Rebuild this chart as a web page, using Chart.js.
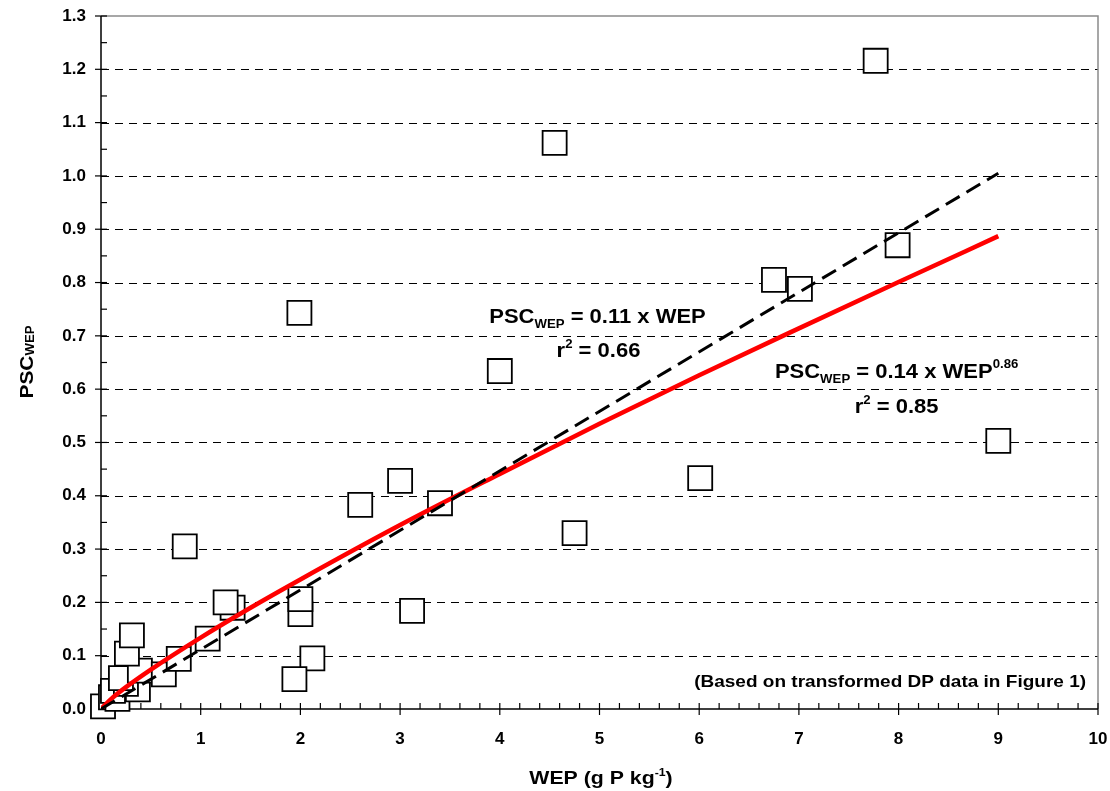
<!DOCTYPE html>
<html><head><meta charset="utf-8">
<script src="https://cdn.jsdelivr.net/npm/chart.js@4"></script>
<style>html,body{margin:0;padding:0;background:#fff}canvas{display:block}</style>
</head><body>
<canvas id="c" width="1110" height="791"></canvas>
<script>
// Observed data (WEP, PSC_WEP)
const wepValues = [0.02, 0.10, 0.165, 0.12, 0.37, 0.25, 0.20, 0.39, 0.26, 0.31, 0.63, 0.78, 1.07, 1.32, 1.25, 0.84, 2.00, 2.00, 2.12, 1.94, 1.99, 2.60, 3.00, 3.40, 3.12, 4.00, 4.55, 4.75, 6.01, 7.01, 6.75, 7.77, 7.99, 9.00];
const pscValues = [0.005, 0.022, 0.019, 0.034, 0.037, 0.047, 0.058, 0.072, 0.104, 0.138, 0.065, 0.094, 0.132, 0.190, 0.200, 0.305, 0.178, 0.206, 0.095, 0.056, 0.743, 0.383, 0.428, 0.386, 0.184, 0.634, 1.062, 0.330, 0.433, 0.788, 0.805, 1.216, 0.870, 0.503];
// Linear fit line (black dashed)
const linearFitWep = [0, 9];
const linearFitPsc = [0, 1.005];
// Power fit curve (red)
const powerFitWep = [0, 0.1, 0.25, 0.5, 1, 1.5, 2, 3, 4, 5, 6, 7, 8, 9];
const powerFitPsc = [0, 0.0185, 0.041, 0.074, 0.134, 0.19, 0.243, 0.345, 0.441, 0.535, 0.626, 0.714, 0.801, 0.887];
// Tick labels
const xTickValues = [0, 1, 2, 3, 4, 5, 6, 7, 8, 9, 10];
const xTickLabels = ['0', '1', '2', '3', '4', '5', '6', '7', '8', '9', '10'];
const yTickValues = [0, 0.1, 0.2, 0.3, 0.4, 0.5, 0.6, 0.7, 0.8, 0.9, 1.0, 1.1, 1.2, 1.3];
const yTickLabels = ['0.0', '0.1', '0.2', '0.3', '0.4', '0.5', '0.6', '0.7', '0.8', '0.9', '1.0', '1.1', '1.2', '1.3'];

const FONT = '"Liberation Sans", Arial, Helvetica, sans-serif';

function zip(xs, ys) { return xs.map((v, i) => ({ x: v, y: ys[i] })); }

function richWidth(ctx, parts) {
  let w = 0;
  parts.forEach(p => { ctx.font = 'bold ' + p.s + 'px ' + FONT; w += ctx.measureText(p.t).width; });
  return w;
}
function drawRich(ctx, parts, x, y, align, sx, rot) {
  ctx.save();
  ctx.translate(x, y);
  if (rot) ctx.rotate(rot);
  ctx.scale(sx, 1);
  ctx.fillStyle = '#000';
  ctx.textBaseline = 'alphabetic';
  ctx.textAlign = 'left';
  const w = richWidth(ctx, parts);
  let cx = align === 'center' ? -w / 2 : (align === 'right' ? -w : 0);
  parts.forEach(p => {
    ctx.font = 'bold ' + p.s + 'px ' + FONT;
    ctx.fillText(p.t, cx, p.dy || 0);
    cx += ctx.measureText(p.t).width;
  });
  ctx.restore();
}

function noPad(s) { s.paddingTop = 0; s.paddingBottom = 0; s.paddingLeft = 0; s.paddingRight = 0; }

const framePlugin = {
  id: 'frame',
  beforeDatasetsDraw(chart) {
    const { ctx, chartArea: a, scales: { x, y } } = chart;
    ctx.save();
    // dashed horizontal gridlines
    ctx.strokeStyle = '#000';
    ctx.lineWidth = 1;
    ctx.setLineDash([8, 6]);
    yTickValues.forEach(v => {
      if (v <= 0 || v >= 1.3) return;
      const py = Math.round(y.getPixelForValue(v)) + 0.5;
      ctx.beginPath(); ctx.moveTo(a.left, py); ctx.lineTo(a.right, py); ctx.stroke();
    });
    ctx.setLineDash([]);
    // top and right frame (gray)
    ctx.strokeStyle = '#8a8a8a';
    ctx.lineWidth = 1.5;
    ctx.beginPath(); ctx.moveTo(a.left, a.top); ctx.lineTo(a.right, a.top); ctx.lineTo(a.right, a.bottom); ctx.stroke();
    // axes
    ctx.strokeStyle = '#000';
    ctx.lineWidth = 1.5;
    ctx.beginPath(); ctx.moveTo(a.left, a.top); ctx.lineTo(a.left, a.bottom); ctx.lineTo(a.right, a.bottom); ctx.stroke();
    // ticks
    ctx.lineWidth = 1.2;
    for (let i = 0; i <= 26; i++) {
      const py = y.getPixelForValue(i * 0.05);
      const major = i % 2 === 0;
      ctx.beginPath(); ctx.moveTo(major ? a.left - 6 : a.left, py); ctx.lineTo(a.left + 6, py); ctx.stroke();
    }
    for (let i = 0; i <= 50; i++) {
      const px = x.getPixelForValue(i * 0.2);
      const major = i % 5 === 0;
      ctx.beginPath(); ctx.moveTo(px, a.bottom - 6); ctx.lineTo(px, major ? a.bottom + 6 : a.bottom); ctx.stroke();
    }
    ctx.restore();
  },
  afterDraw(chart) {
    const { ctx, scales: { x, y } } = chart;
    const SX = 1.1;
    // y axis title
    drawRich(ctx, [{ t: 'PSC', s: 19 }, { t: 'WEP', s: 12, dy: 0.5 }], 33, 362, 'center', SX, -Math.PI / 2);
    // x axis title
    drawRich(ctx, [{ t: 'WEP (g P kg', s: 19 }, { t: '-1', s: 11, dy: -8 }, { t: ')', s: 19 }], 601, 784, 'center', 1.12);
    // linear fit annotation
    drawRich(ctx, [{ t: 'PSC', s: 20 }, { t: 'WEP', s: 12, dy: 5 }, { t: ' = 0.11 x WEP', s: 20 }],
      x.getPixelForValue(4.98), y.getPixelForValue(0.724), 'center', SX);
    drawRich(ctx, [{ t: 'r', s: 20 }, { t: '2', s: 12, dy: -9 }, { t: ' = 0.66', s: 20 }],
      x.getPixelForValue(4.99), y.getPixelForValue(0.66), 'center', SX);
    // power fit annotation
    drawRich(ctx, [{ t: 'PSC', s: 20 }, { t: 'WEP', s: 12, dy: 5 }, { t: ' = 0.14 x WEP', s: 20 }, { t: '0.86', s: 12, dy: -10 }],
      x.getPixelForValue(7.98), y.getPixelForValue(0.62), 'center', SX);
    drawRich(ctx, [{ t: 'r', s: 20 }, { t: '2', s: 12, dy: -9 }, { t: ' = 0.85', s: 20 }],
      x.getPixelForValue(7.98), y.getPixelForValue(0.555), 'center', SX);
    // note
    drawRich(ctx, [{ t: '(Based on transformed DP data in Figure 1)', s: 17.3 }],
      x.getPixelForValue(9.88), y.getPixelForValue(0.042), 'right', SX);
  }
};

new Chart(document.getElementById('c').getContext('2d'), {
  type: 'scatter',
  data: {
    datasets: [
      {
        type: 'line', label: 'Linear fit', data: zip(linearFitWep, linearFitPsc),
        borderColor: '#000', borderWidth: 3, borderDash: [16, 8], pointRadius: 0, fill: false, tension: 0, order: 0
      },
      {
        type: 'line', label: 'Power fit', data: zip(powerFitWep, powerFitPsc),
        borderColor: '#ff0000', borderWidth: 4.5, pointRadius: 0, fill: false, cubicInterpolationMode: 'monotone', order: 1
      },
      {
        label: 'PSC_WEP', data: zip(wepValues, pscValues),
        pointStyle: 'rect', pointRadius: 17, pointHoverRadius: 17,
        backgroundColor: '#fff', borderColor: '#000', borderWidth: 1.8, clip: false, order: 2
      }
    ]
  },
  options: {
    responsive: false,
    animation: false,
    events: [],
    layout: { autoPadding: false, padding: { left: 0, top: 16, right: 12, bottom: 0 } },
    plugins: { legend: { display: false }, tooltip: { enabled: false } },
    scales: {
      x: {
        type: 'linear', min: 0, max: 10,
        afterFit(s) { s.height = 82; noPad(s); },
        afterBuildTicks(s) { s.ticks = xTickValues.map(v => ({ value: v })); },
        grid: { display: false, drawTicks: false },
        border: { display: false },
        ticks: { padding: 20, color: '#000', font: { family: FONT, size: 17, weight: 'bold' },
          callback: (v, i) => xTickLabels[i], maxRotation: 0, autoSkip: false }
      },
      y: {
        type: 'linear', min: 0, max: 1.3,
        afterFit(s) { s.width = 101; noPad(s); },
        afterBuildTicks(s) { s.ticks = yTickValues.map(v => ({ value: v })); },
        grid: { display: false, drawTicks: false },
        border: { display: false },
        ticks: { padding: 15, color: '#000', font: { family: FONT, size: 17, weight: 'bold' },
          callback: (v, i) => yTickLabels[i], autoSkip: false }
      }
    }
  },
  plugins: [framePlugin]
});
</script>
</body></html>
